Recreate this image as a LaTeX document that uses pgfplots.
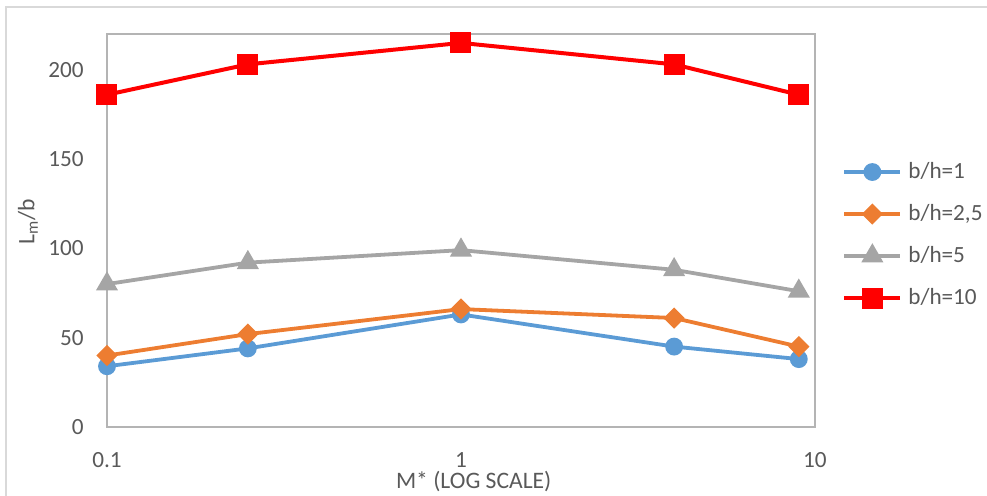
\documentclass[border=0pt]{standalone}
\usepackage{fontspec}
\setmainfont{Carlito}
\usepackage{pgfplots}
\pgfplotsset{compat=1.18}

\definecolor{cblue}{HTML}{5B9BD5}
\definecolor{corange}{HTML}{ED7D31}
\definecolor{cgray}{HTML}{A5A5A5}
\definecolor{cred}{HTML}{FF0000}
\definecolor{boxgray}{HTML}{B4B4B4}
\definecolor{framegray}{HTML}{D9D9D9}
\definecolor{txt}{HTML}{595959}

\begin{document}
\begin{tikzpicture}
\useasboundingbox (-53.5pt,-34.5pt) rectangle (440pt,213.5pt);
\draw[framegray, line width=0.6pt] (-50.5pt,-34.5pt) -- (-50.5pt,210pt) -- (440pt,210pt);
\begin{axis}[
    at={(0,0)}, anchor=south west,
    scale only axis, width=354pt, height=196.5pt,
    xmode=log, xmin=0.1, xmax=10, ymin=0, ymax=220,
    xtick={0.1,1,10}, xticklabels={0.1,1,10},
    ytick={0,50,100,150,200},
    major tick length=0pt, minor tick num=0,
    axis line style={boxgray, line width=0.75pt},
    tick style={draw=none},
    /pgf/number format/assume math mode=true,
    ticklabel style={font=\fontsize{11.6}{14}\selectfont, text=txt, inner sep=0pt},
    xticklabel style={anchor=center, yshift=-16.5pt},
    yticklabel style={anchor=east, xshift=-11.5pt},
    label style={font=\fontsize{11.8}{14}\selectfont, text=txt},
    xlabel={M* (LOG SCALE)},
    xlabel style={at={(axis description cs:0.518,-0.139)}, anchor=center},
    ylabel={L\textsubscript{m}/b},
    ylabel style={at={(axis description cs:-0.1116,0.5216)}, anchor=center},
    legend style={at={(axis description cs:1.0381,0.4885)}, anchor=west,
        draw=none, fill=none, inner sep=0pt, row sep=11pt,
        font=\fontsize{11.6}{14}\selectfont, text=txt,
        nodes={inner sep=0pt, text height=8pt, text depth=2pt},
        /tikz/every odd column/.style={column sep=3pt}},
    legend cell align=left,
    legend image code/.code={
        \draw[mark repeat=2, mark phase=2] plot coordinates {(0pt,0pt) (14pt,0pt) (28pt,0pt)};
    },
]
\addplot[cblue, line width=1.9pt, mark=*, mark size=3.5pt]
    coordinates {(0.1,34) (0.25,44) (1,63) (4,45) (9,38)};
\addlegendentry{b/h=1}
\addplot[corange, line width=1.9pt, mark=square*, mark size=2.8pt, mark options={rotate=45}]
    coordinates {(0.1,40) (0.25,52) (1,66) (4,61) (9,45)};
\addlegendentry{b/h=2,5}
\addplot[cgray, line width=1.9pt, mark=triangle*, mark size=4.5pt]
    coordinates {(0.1,80) (0.25,92) (1,99) (4,88) (9,76)};
\addlegendentry{b/h=5}
\addplot[cred, line width=2pt, mark=square*, mark size=4.25pt]
    coordinates {(0.1,186) (0.25,203) (1,215) (4,203) (9,186)};
\addlegendentry{b/h=10}
\end{axis}
\end{tikzpicture}
\end{document}
